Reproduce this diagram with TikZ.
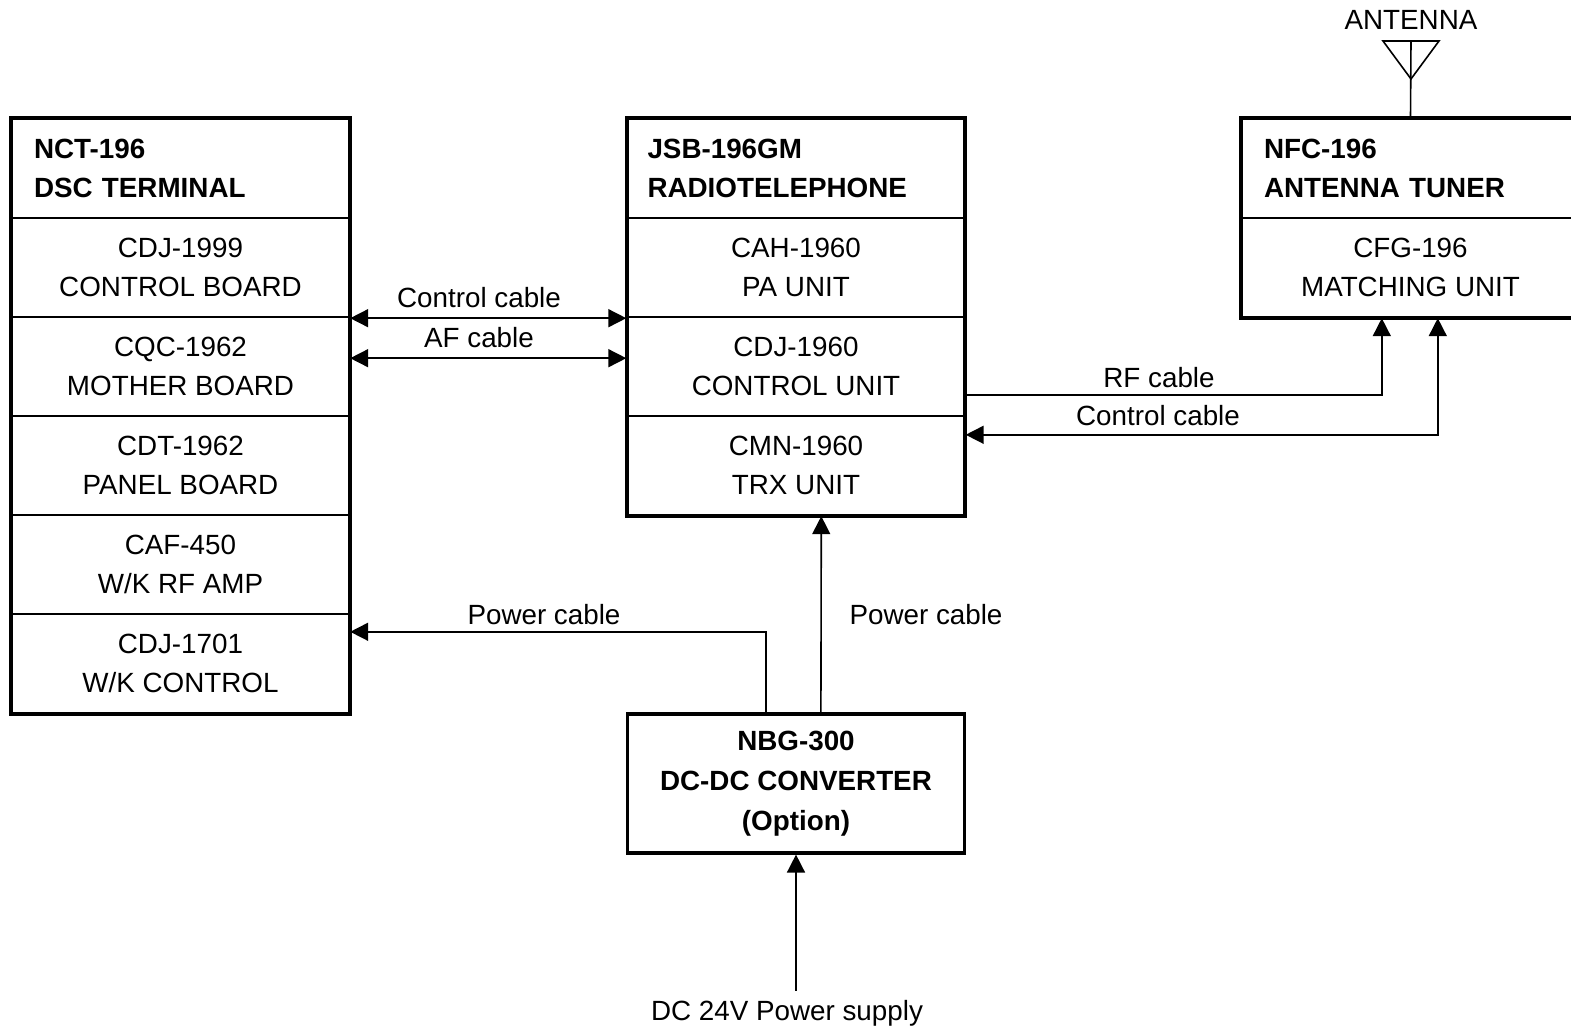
\documentclass[tikz,border=0pt]{standalone}
\usepackage{fontspec}
\setmainfont{Liberation Sans}
\usetikzlibrary{arrows.meta,fit,calc}
\begin{document}
\begin{tikzpicture}[x=0.5pt,y=-0.5pt,
  every node/.style={font=\fontsize{13.9}{19.5}\selectfont},
  sec/.style={draw, line width=1.2pt, minimum width=168.5pt, minimum height=49.5pt, inner sep=0pt, align=center},
  ttl/.style={sec, font=\fontsize{13.9}{19.5}\selectfont\bfseries, align=left, text width=146.5pt},
  outerbox/.style={draw, line width=1.6pt, inner sep=0pt},
  lbl/.style={inner sep=0pt},
  conn/.style={line width=0.8pt},
  tip/.tip={Triangle[length=9pt,width=9pt]},
  arr/.style={conn,-tip},
  dbl/.style={conn,tip-tip}]
\useasboundingbox (0,0) rectangle (1571,1031);
\clip (0,0) rectangle (1571,1031);
\begin{scope}[shift={(1,1)}]
% left box
\node[ttl] (nct) at (179.5,167.5) {NCT-196\\DSC TERMINAL};
\node[sec] (cdj1999) at (179.5,266.5) {CDJ-1999\\CONTROL BOARD};
\node[sec] (cqc) at (179.5,365.5) {CQC-1962\\MOTHER BOARD};
\node[sec] (cdt) at (179.5,464.5) {CDT-1962\\PANEL BOARD};
\node[sec] (caf) at (179.5,563.5) {CAF-450\\W/K RF AMP};
\node[sec] (cdj1701) at (179.5,662.5) {CDJ-1701\\W/K CONTROL};
\node[outerbox, fit=(nct)(cdj1701)] (leftbox) {};
% middle box
\node[ttl, text width=148.5pt] (jsb) at (795,167.5) {JSB-196GM\\RADIOTELEPHONE};
\node[sec] (cah) at (795,266.5) {CAH-1960\\PA UNIT};
\node[sec] (cdj1960) at (795,365.5) {CDJ-1960\\CONTROL UNIT};
\node[sec] (cmn) at (795,464.5) {CMN-1960\\TRX UNIT};
\node[outerbox, fit=(jsb)(cmn)] (midbox) {};
% right box
\node[ttl] (nfc) at (1409.5,167.5) {NFC-196\\ANTENNA TUNER};
\node[sec] (cfg) at (1409.5,266.5) {CFG-196\\MATCHING UNIT};
\node[outerbox, fit=(nfc)(cfg)] (rightbox) {};
% bottom box
\node[outerbox, minimum width=168.5pt, minimum height=69.5pt, align=center,
  font=\fontsize{13.9}{20}\selectfont\bfseries] (nbg) at (795,782.5) {NBG-300\\DC-DC CONVERTER\\(Option)};
% antenna
\coordinate (ant) at (1410,40);
\draw[conn] (nfc.north) -- (ant);
\draw[conn, line join=miter] (1382,40) -- (1438,40) -- (1410,78) -- cycle;
\node[lbl] (antl) at (1410,19) {ANTENNA};
% connectors
\draw[dbl] (cdj1999.south east) -- (cdj1999.south east -| cah.west);
\node[lbl] (l1) at (478,297) {Control cable};
\coordinate (afl) at ($(cdj1999.south east)+(0,40)$);
\draw[dbl] (afl) -- (afl -| cah.west);
\node[lbl] (l2) at (478,337) {AF cable};
\draw[arr] ($(cdj1960.north east)+(0,79)$) -| ($(cfg.south west)+(141,0)$);
\node[lbl] (l3) at (1158,377) {RF cable};
\draw[dbl] ($(cfg.south west)+(197,0)$) |- ($(cmn.north east)+(0,20)$);
\node[lbl] (l4) at (1157,415) {Control cable};
\draw[arr] ($(nbg.north west)+(140,0)$) |- ($(cdj1701.north east)+(0,19)$);
\node[lbl] (l5) at (543,614) {Power cable};
\draw[arr] ($(nbg.north west)+(195,0)$) -- ($(cmn.south west)+(195,0)$);
\node[lbl] (l6) at (925,614) {Power cable};
\coordinate (dc) at (795,990);
\draw[arr] (dc) -- (nbg.south);
\node[lbl] (l7) at (786,1012) {DC 24V Power supply};
\end{scope}
\end{tikzpicture}
\end{document}
